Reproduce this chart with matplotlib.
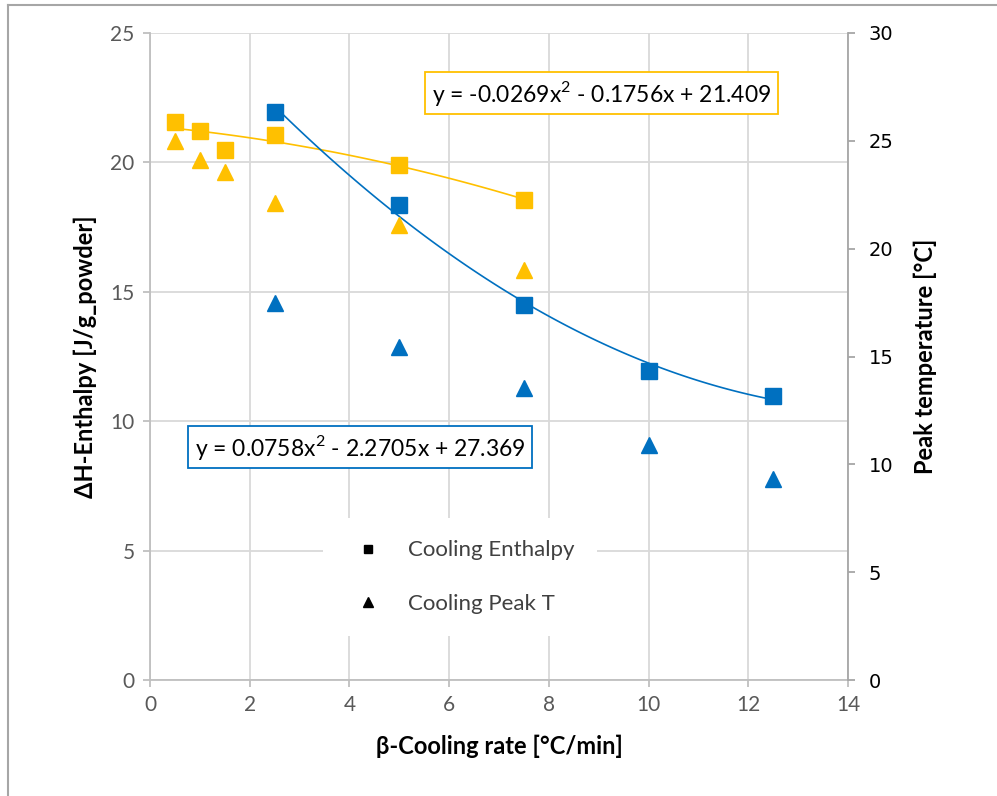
import numpy as np
import matplotlib.pyplot as plt
from matplotlib.lines import Line2D

# data
rate_y = [0.5, 1, 1.5, 2.5, 5, 7.5]          # yellow series x
enth_y = [21.55, 21.2, 20.47, 21.06, 19.89, 18.54]
peak_y = [24.97, 24.11, 23.55, 22.10, 21.08, 19.01]

rate_b = [2.5, 5, 7.5, 10, 12.5]              # blue series x
enth_b = [21.93, 18.34, 14.48, 11.93, 10.99]
peak_b = [17.47, 15.44, 13.55, 10.90, 9.32]

fit_y = [-0.0269, -0.1756, 21.409]
fit_b = [0.0758, -2.2705, 27.369]

YEL = '#FFC000'
BLU = '#0070C0'
fam = ['Lato', 'DejaVu Sans']
plt.rcParams['mathtext.fontset'] = 'custom'
plt.rcParams['mathtext.rm'] = 'Lato'

fig = plt.figure(figsize=(9.97, 7.96), dpi=100)
ax = fig.add_axes([150/997, 1-680/796, 698/997, 647/796])
ax2 = ax.twinx()

# trend lines
xs = np.linspace(min(rate_y), max(rate_y), 100)
ax.plot(xs, np.polyval(fit_y, xs), color=YEL, lw=1.2, zorder=3)
xs = np.linspace(min(rate_b), max(rate_b), 100)
ax.plot(xs, np.polyval(fit_b, xs), color=BLU, lw=1.2, zorder=3)

ax.plot(rate_y, enth_y, 's', color=YEL, ms=12, zorder=4)
ax.plot(rate_b, enth_b, 's', color=BLU, ms=12, zorder=4)
ax2.plot(rate_y, peak_y, '^', color=YEL, ms=12, zorder=4)
ax2.plot(rate_b, peak_b, '^', color=BLU, ms=12, zorder=4)

ax.set_xlim(0, 14)
ax.set_ylim(0, 25)
ax2.set_ylim(0, 30)
ax.set_xticks(range(0, 15, 2))
ax.set_yticks(range(0, 26, 5))
ax2.set_yticks(range(0, 31, 5))
ax.grid(True, color='#d9d9d9', lw=1.3)
ax.set_axisbelow(True)

for s in ['top', 'right']:
    ax.spines[s].set_visible(False)
for s in ['top', 'left', 'bottom']:
    ax2.spines[s].set_visible(False)
ax.spines['left'].set_color('#bfbfbf')
ax.spines['bottom'].set_color('#bfbfbf')
ax2.spines['right'].set_color('#a6a6a6')
ax.spines['left'].set_linewidth(1.3)
ax.spines['bottom'].set_linewidth(1.3)
ax2.spines['right'].set_linewidth(1.3)

ax.tick_params(axis='both', colors='#bfbfbf', labelcolor='#595959', length=5, width=1.3, pad=6)
ax2.tick_params(axis='y', colors='#a6a6a6', labelcolor='#000000', length=5, width=1.3, pad=10)
for lab in ax.get_xticklabels() + ax.get_yticklabels():
    lab.set_family(fam)
    lab.set_fontsize(15)
for lab in ax2.get_yticklabels():
    lab.set_family('DejaVu Sans')
    lab.set_fontsize(14)

ax.set_xlabel('β-Cooling rate [°C/min]', family=fam, fontsize=17, fontweight='bold', labelpad=14)
ax.set_ylabel('ΔH-Enthalpy [J/g_powder]', family=fam, fontsize=17, fontweight='bold', labelpad=10)
ax2.set_ylabel('Peak temperature [°C]', family=fam, fontsize=17, fontweight='bold', labelpad=14)

# equation boxes
ax.text((187-150)/698 + 0.011, 1-(447-33)/647, r'y = 0.0758x$^{\mathrm{2}}$ - 2.2705x + 27.369',
        transform=ax.transAxes, ha='left', va='center', family=fam, fontsize=16.5, color='black',
        bbox=dict(boxstyle='square,pad=0.3', fc='white', ec=BLU, lw=1.3), zorder=5)
ax.text((424-150)/698 + 0.011, 1-(93-33)/647, r'y = -0.0269x$^{\mathrm{2}}$ - 0.1756x + 21.409',
        transform=ax.transAxes, ha='left', va='center', family=fam, fontsize=16.5, color='black',
        bbox=dict(boxstyle='square,pad=0.3', fc='white', ec=YEL, lw=1.3), zorder=5)

# legend
h = [Line2D([], [], ls='none', marker='s', color='black', ms=6),
     Line2D([], [], ls='none', marker='^', color='black', ms=7)]
leg = ax2.legend(h, ['Cooling Enthalpy', 'Cooling Peak T'], loc='center',
                 bbox_to_anchor=((460-150)/698, 1-(577-33)/647), frameon=True,
                 labelspacing=1.5, handletextpad=0.8, borderpad=1.0,
                 prop={'family': fam, 'size': 16})
leg.get_frame().set_edgecolor('none')
leg.get_frame().set_facecolor('white')
leg.get_frame().set_alpha(1)
for t in leg.get_texts():
    t.set_color('#404040')

# outer frame (left and top edges visible)
fig.add_artist(Line2D([8/997, 8/997], [0, 1-5/796], color='#a6a6a6', lw=1.5))
fig.add_artist(Line2D([8/997, 1], [1-5/796, 1-5/796], color='#a6a6a6', lw=1.5))

fig.savefig('out.png', dpi=100)
